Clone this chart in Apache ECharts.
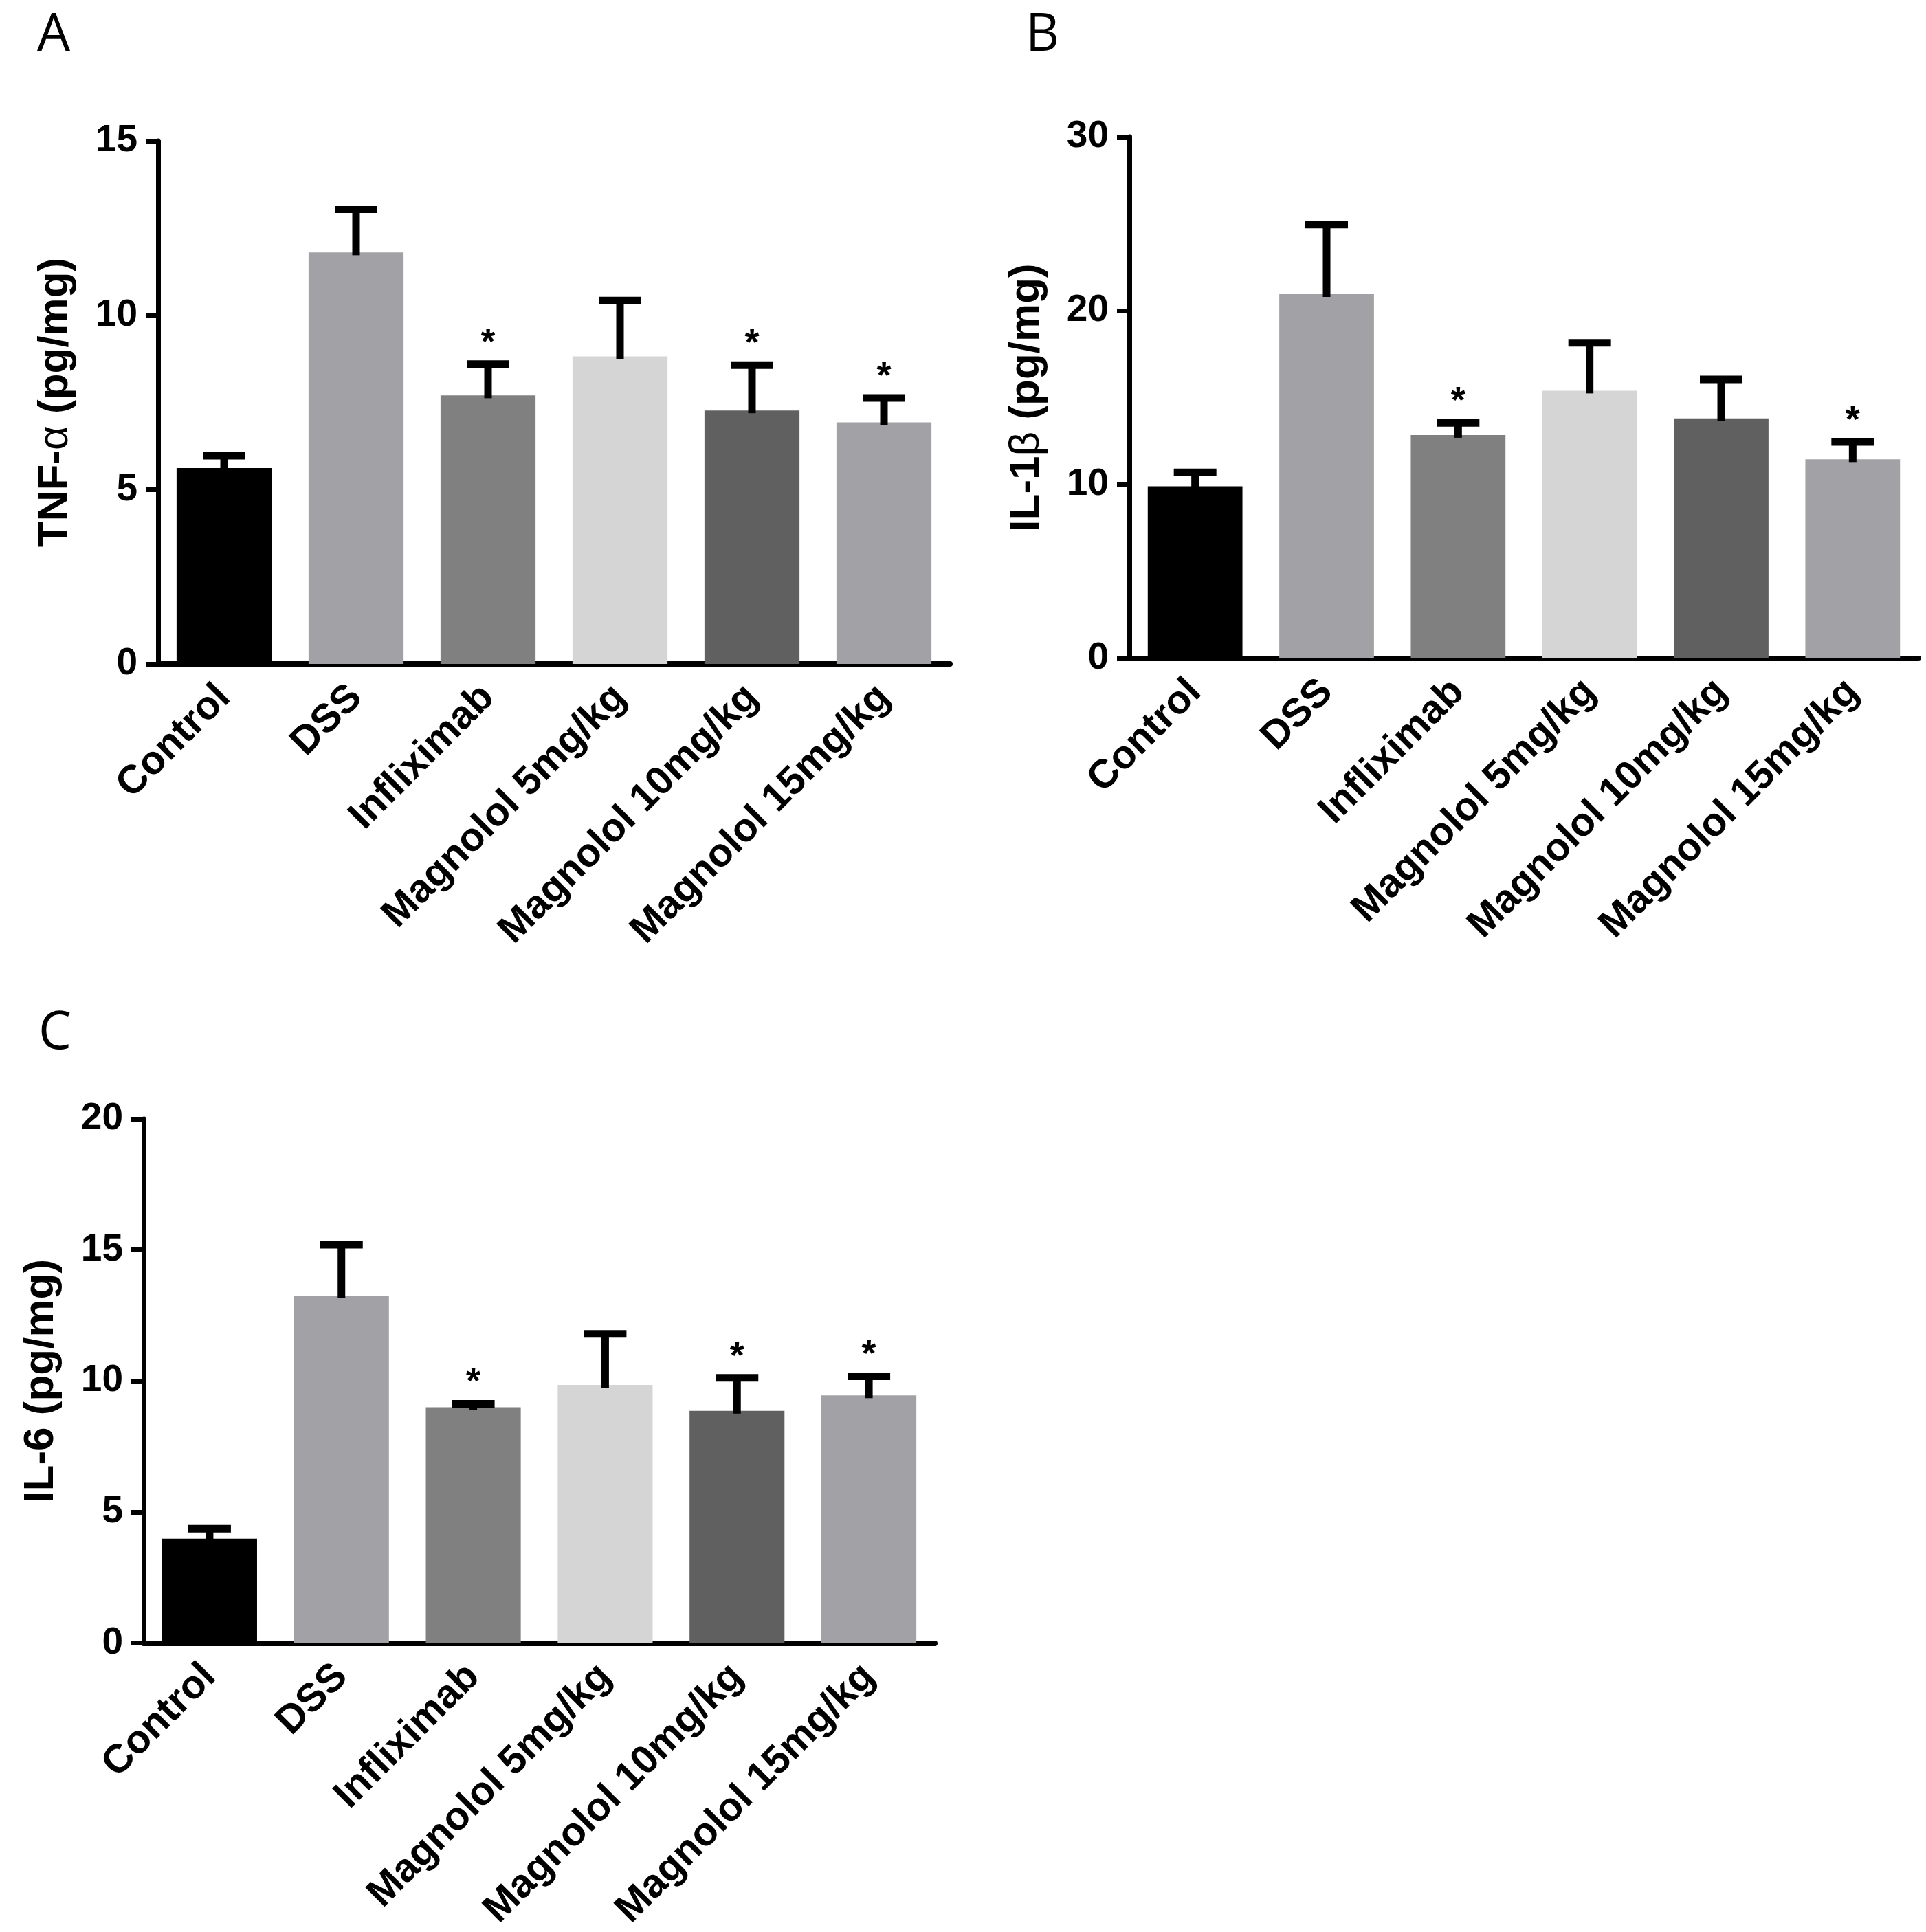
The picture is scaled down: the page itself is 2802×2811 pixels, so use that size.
<!DOCTYPE html>
<html>
<head>
<meta charset="utf-8">
<script src="https://cdn.jsdelivr.net/npm/echarts@6/dist/echarts.min.js"></script>
<style>
  html, body { margin: 0; padding: 0; background: #fff; }
  #main { width: 2802px; height: 2811px; }
</style>
</head>
<body>
<div id="main"></div>
<script>
// groups on the x axis (same for all three panels)
const groups = ['Control', 'DSS', 'Infliximab', 'Magnolol 5mg/kg', 'Magnolol 10mg/kg', 'Magnolol 15mg/kg'];
const barColors = ['#000000', '#a2a2a6', '#808080', '#d5d5d5', '#606060', '#a2a2a6'];

// A: TNF-α
const tnfMean = [5.62, 11.80, 7.70, 8.82, 7.27, 6.93];
const tnfSem  = [0.35, 1.24, 0.90, 1.60, 1.30, 0.70];
const tnfSig  = [0, 0, 1, 0, 1, 1];

// B: IL-1β
const il1bMean = [9.90, 20.95, 12.85, 15.40, 13.80, 11.45];
const il1bSem  = [0.80, 4.00, 0.70, 2.75, 2.25, 1.00];
const il1bSig  = [0, 0, 1, 0, 0, 1];

// C: IL-6
const il6Mean = [3.98, 13.26, 9.00, 9.85, 8.86, 9.45];
const il6Sem  = [0.38, 1.94, 0.13, 1.95, 1.26, 0.73];
const il6Sig  = [0, 0, 1, 0, 1, 1];

// y axis ranges
const yMax = [15, 30, 20];
const yStep = [5, 10, 5];

const FONT = '"Liberation Sans", Arial, sans-serif';

const chart = echarts.init(document.getElementById('main'));

function makeX(gridIndex) {
  return {
    type: 'category',
    gridIndex: gridIndex,
    data: groups,
    axisLine: { lineStyle: { color: '#000', width: 8 } },
    axisTick: { alignWithLabel: true, length: 20, lineStyle: { color: '#000', width: 7 } },
    axisLabel: {
      interval: 0, rotate: 45, margin: 40,
      color: '#000', fontSize: 58, fontWeight: 'bold', fontFamily: FONT
    }
  };
}

function makeY(gridIndex, max, step, name) {
  return {
    type: 'value',
    gridIndex: gridIndex,
    min: 0, max: max, interval: step,
    splitLine: { show: false },
    axisLine: { show: true, lineStyle: { color: '#000', width: 7 } },
    axisTick: { show: true, length: 18, lineStyle: { color: '#000', width: 7 } },
    axisLabel: { color: '#000', fontSize: 55, fontWeight: 'bold', fontFamily: FONT, margin: 30 },
    name: name,
    nameLocation: 'middle',
    nameGap: 118,
    nameTextStyle: {
      color: '#000', fontSize: 62, fontWeight: 'bold', fontFamily: FONT,
      rich: { g: { color: '#000', fontSize: 62, fontWeight: 'normal', fontFamily: FONT } }
    }
  };
}

function barSeries(idx, mean) {
  return {
    type: 'bar',
    xAxisIndex: idx, yAxisIndex: idx,
    barWidth: '72%',
    data: mean.map((v, i) => ({ value: v, itemStyle: { color: barColors[i] } })),
    silent: true
  };
}

// error bars (upper half only) with significance stars
function errSeries(idx, mean, sem, sig) {
  return {
    type: 'custom',
    xAxisIndex: idx, yAxisIndex: idx,
    silent: true,
    z: 5,
    data: mean.map((v, i) => [i, v, v + sem[i], sig[i]]),
    renderItem: function (params, api) {
      const base = api.coord([api.value(0), api.value(1)]);
      const top = api.coord([api.value(0), api.value(2)]);
      const half = 31;
      const children = [
        { type: 'line', shape: { x1: base[0], y1: base[1] + 4, x2: top[0], y2: top[1] },
          style: { stroke: '#000', lineWidth: 11 } },
        { type: 'line', shape: { x1: top[0] - half, y1: top[1], x2: top[0] + half, y2: top[1] },
          style: { stroke: '#000', lineWidth: 11 } }
      ];
      if (api.value(3)) {
        children.push({
          type: 'text',
          style: { text: '*', x: top[0], y: top[1] - 30, align: 'center', verticalAlign: 'middle',
                   font: 'bold 54px ' + FONT, fill: '#000' }
        });
      }
      return { type: 'group', children: children };
    }
  };
}

function letter(t, x, y) {
  return { type: 'text', left: x, top: y, style: { text: t, font: '76px "Open Sans", sans-serif', fill: '#000' } };
}

chart.setOption({
  backgroundColor: '#fff',
  animation: false,
  graphic: [letter('A', 54, 14), letter('B', 1492, 14), letter('C', 56, 1466)],
  grid: [
    { left: 230, top: 205, width: 1152, height: 761 },
    { left: 1643, top: 199, width: 1148, height: 759 },
    { left: 209, top: 1628, width: 1151, height: 764 }
  ],
  xAxis: [makeX(0), makeX(1), makeX(2)],
  yAxis: [
    makeY(0, yMax[0], yStep[0], 'TNF-{g|α} (pg/mg)'),
    makeY(1, yMax[1], yStep[1], 'IL-1{g|β} (pg/mg)'),
    makeY(2, yMax[2], yStep[2], 'IL-6 (pg/mg)')
  ],
  series: [
    barSeries(0, tnfMean), errSeries(0, tnfMean, tnfSem, tnfSig),
    barSeries(1, il1bMean), errSeries(1, il1bMean, il1bSem, il1bSig),
    barSeries(2, il6Mean), errSeries(2, il6Mean, il6Sem, il6Sig)
  ]
});
</script>
</body>
</html>
